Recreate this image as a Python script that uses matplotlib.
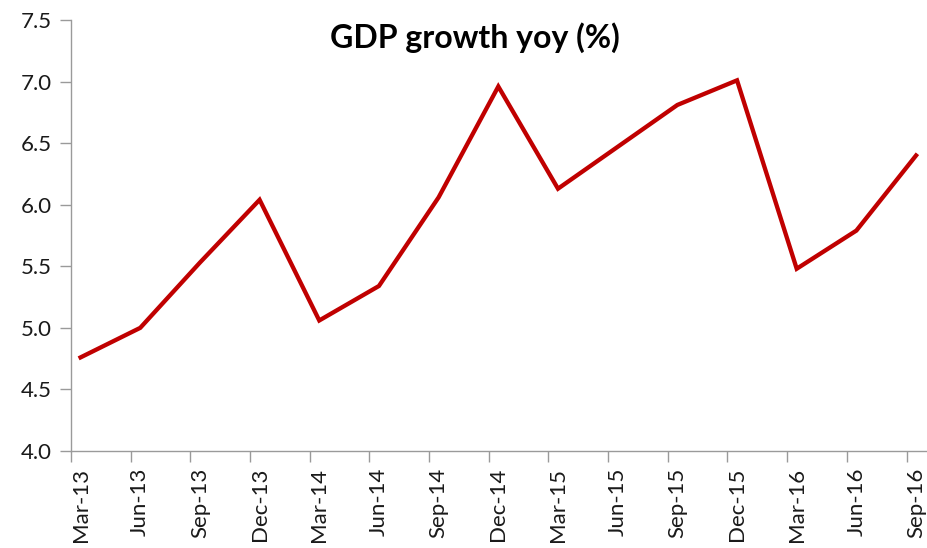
import numpy as np
import matplotlib
matplotlib.use("Agg")
import matplotlib.pyplot as plt

# quarterly GDP growth, yoy %
quarters = ["Mar-13", "Jun-13", "Sep-13", "Dec-13",
            "Mar-14", "Jun-14", "Sep-14", "Dec-14",
            "Mar-15", "Jun-15", "Sep-15", "Dec-15",
            "Mar-16", "Jun-16", "Sep-16"]
gdp_growth = [4.76, 5.00, 5.53, 6.04,
              5.06, 5.34, 6.06, 6.96,
              6.13, 6.47, 6.81, 7.01,
              5.48, 5.79, 6.40]
y_ticks = [4.0, 4.5, 5.0, 5.5, 6.0, 6.5, 7.0, 7.5]

plt.rcParams["font.family"] = ["Lato", "DejaVu Sans"]

fig = plt.figure(figsize=(9.28, 5.48), dpi=100)
ax = fig.add_axes([71 / 928, 97 / 548, 857 / 928, 431 / 548])

x = np.arange(len(quarters))
ax.plot(x, gdp_growth, color="#C00000", linewidth=3.1, solid_joinstyle="miter")

# Excel-style date axis: tick marks a bit before each data point
offset = 0.16
ax.set_xlim(-offset, len(quarters) - 1 + 0.2)
ax.set_ylim(4.0, 7.5)
ax.set_xticks(x)
ax.set_xticklabels(quarters, rotation=90)
ax.set_xticks(x - offset, minor=True)
ax.tick_params(axis="x", which="major", length=0, pad=12, labelsize=16, labelcolor="#1a1a1a")
ax.tick_params(axis="x", which="minor", length=8, width=1, color="#9a9a9a")
ax.set_yticks(y_ticks)
ax.set_yticklabels([f"{v:.1f}" for v in y_ticks])
ax.tick_params(axis="y", length=8, width=1, color="#9a9a9a", pad=6, labelsize=16, labelcolor="#1a1a1a")

for side in ["top", "right"]:
    ax.spines[side].set_visible(False)
for side in ["left", "bottom"]:
    ax.spines[side].set_color("#9a9a9a")
    ax.spines[side].set_linewidth(1)

fig.text(475 / 928, 510 / 548, "GDP growth yoy (%)", ha="center", va="center",
         fontsize=23, fontweight="bold", color="black")

fig.savefig("out.png", dpi=100)
